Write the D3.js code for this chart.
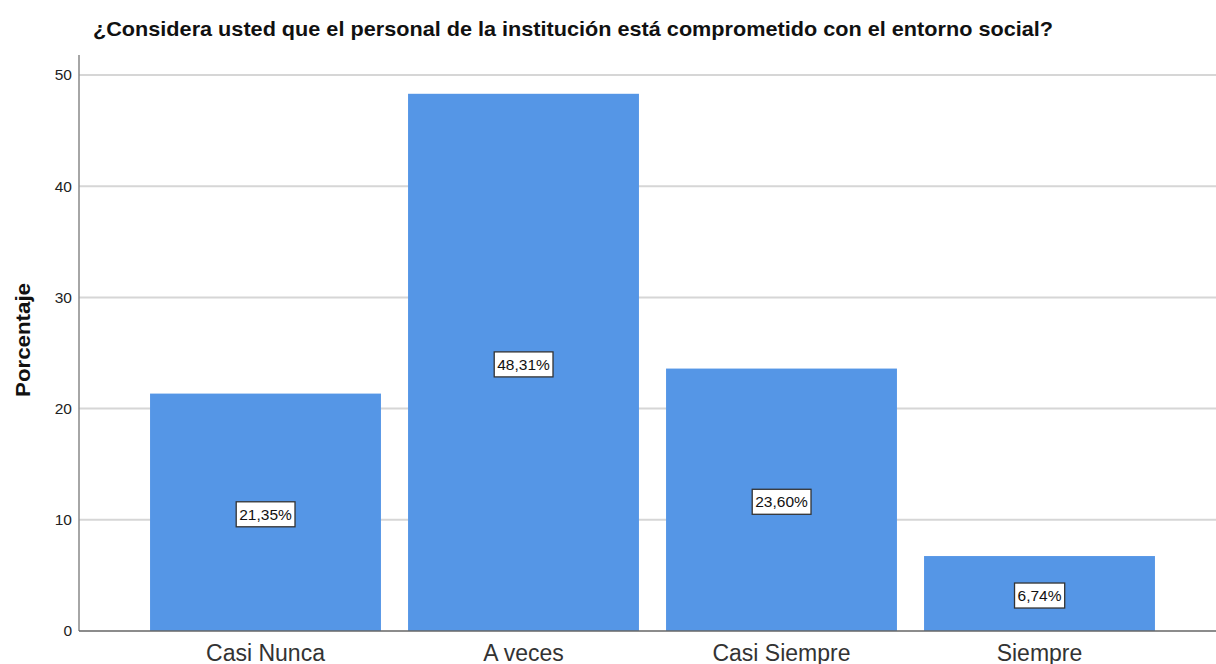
<!DOCTYPE html>
<html lang="es">
<head>
<meta charset="utf-8">
<title>Porcentaje - entorno social</title>
<script src="https://d3js.org/d3.v7.min.js"></script>
<style>
  body { margin: 0; background: #fff; }
  text { font-family: "Liberation Sans", Arial, sans-serif; }
</style>
</head>
<body>
<script>
// data
var categories = ["Casi Nunca", "A veces", "Casi Siempre", "Siempre"];
var values = [21.35, 48.31, 23.60, 6.74];
var yTicks = [0, 10, 20, 30, 40, 50];

var title = "¿Considera usted que el personal de la institución está comprometido con el entorno social?";

var w = 1216, h = 664;
var mLeft = 79, mRight = 1216, mTop = 55, mBottom = 631;

var svg = d3.select("body").append("svg")
  .attr("width", w)
  .attr("height", h);

var x = d3.scaleBand()
  .domain(categories)
  .range([136.5, 1168.5])
  .paddingInner(0.105)
  .paddingOuter(0.0525);

var y = d3.scaleLinear()
  .domain([0, 50])
  .range([mBottom, 75]);

// gridlines
svg.append("g")
  .selectAll("line")
  .data(yTicks.filter(function(d) { return d > 0; }))
  .join("line")
  .attr("x1", mLeft)
  .attr("x2", mRight)
  .attr("y1", function(d) { return y(d); })
  .attr("y2", function(d) { return y(d); })
  .attr("stroke", "#d6d6d6")
  .attr("stroke-width", 2);

// y axis (no tick marks, just labels)
var yAxis = svg.append("g")
  .attr("transform", "translate(" + mLeft + ",0)")
  .call(d3.axisLeft(y).tickValues(yTicks).tickSize(0).tickPadding(7));
yAxis.select(".domain").remove();
yAxis.selectAll(".tick text")
  .attr("fill", "#222")
  .style("font-family", "'Liberation Sans', Arial, sans-serif")
  .style("font-size", "15.5px");

svg.append("line")
  .attr("x1", mLeft).attr("x2", mLeft)
  .attr("y1", mTop).attr("y2", mBottom)
  .attr("stroke", "#888")
  .attr("stroke-width", 1.5);

// bars
svg.append("g")
  .selectAll("rect")
  .data(values)
  .join("rect")
  .attr("x", function(d, i) { return x(categories[i]); })
  .attr("y", function(d) { return y(d); })
  .attr("width", x.bandwidth())
  .attr("height", function(d) { return y(0) - y(d); })
  .attr("fill", "#5596e6");

// baseline
svg.append("line")
  .attr("x1", mLeft).attr("x2", mRight)
  .attr("y1", y(0)).attr("y2", y(0))
  .attr("stroke", "#666")
  .attr("stroke-width", 1.5);

// value labels in boxes
var labels = svg.append("g")
  .selectAll("g")
  .data(values)
  .join("g")
  .attr("transform", function(d, i) {
    return "translate(" + (x(categories[i]) + x.bandwidth() / 2) + "," + ((y(d) + y(0)) / 2 + 2) + ")";
  });

labels.append("rect");
labels.append("text")
  .attr("text-anchor", "middle")
  .attr("dy", "0.36em")
  .attr("fill", "#111")
  .style("font-size", "15.5px")
  .text(function(d) { return d.toFixed(2).replace(".", ",") + "%"; });

labels.each(function() {
  var g = d3.select(this);
  var bb = g.select("text").node().getBBox();
  g.select("rect")
    .attr("x", bb.x - 3)
    .attr("y", -12.5)
    .attr("width", bb.width + 6)
    .attr("height", 25)
    .attr("fill", "#fff")
    .attr("stroke", "#333")
    .attr("stroke-width", 1.3);
});

// category labels
svg.append("g")
  .selectAll("text")
  .data(categories)
  .join("text")
  .attr("x", function(d) { return x(d) + x.bandwidth() / 2; })
  .attr("y", 661)
  .attr("text-anchor", "middle")
  .attr("fill", "#333")
  .style("font-size", "23px")
  .text(function(d) { return d; });

// title
svg.append("text")
  .attr("x", 93)
  .attr("y", 36)
  .attr("fill", "#111")
  .attr("textLength", 960)
  .attr("lengthAdjust", "spacingAndGlyphs")
  .style("font-size", "20.5px")
  .style("font-weight", "bold")
  .text(title);

// y axis title
svg.append("text")
  .attr("transform", "translate(30,340) rotate(-90)")
  .attr("text-anchor", "middle")
  .attr("fill", "#111")
  .attr("textLength", 114)
  .attr("lengthAdjust", "spacingAndGlyphs")
  .style("font-size", "21px")
  .style("font-weight", "bold")
  .text("Porcentaje");
</script>
</body>
</html>
